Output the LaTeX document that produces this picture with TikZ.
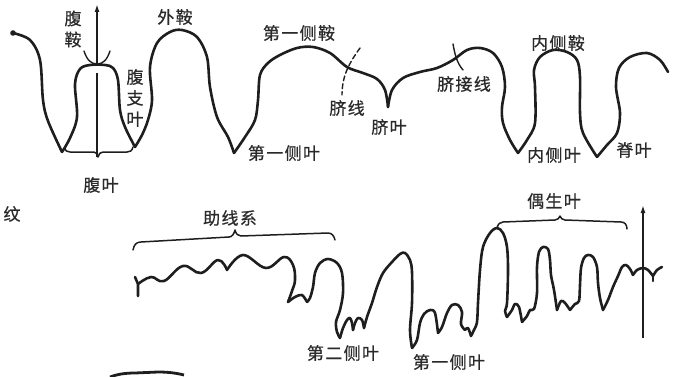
\documentclass[tikz,border=0pt]{standalone}
\usepackage{fontspec}
\newfontfamily\cjk{Noto Sans CJK SC}
\usetikzlibrary{arrows.meta}
\definecolor{ink}{HTML}{1E1E1E}
\definecolor{labelink}{HTML}{2A2A2A}
\begin{document}
\begin{tikzpicture}[x=1pt,y=-1pt,
  suture/.style={line width=2.6pt, line join=round, line cap=round, draw=ink},
  thinline/.style={line width=1.4pt, line cap=round, draw=ink},
  axis/.style={line width=2pt, draw=ink, -{Latex[length=8pt,width=5pt]}},
  brace/.style={line width=1.5pt, line cap=round, line join=round, draw=ink},
  lbl/.style={inner sep=0pt, text=labelink, font=\cjk\fontsize{17}{21}\selectfont\addfontfeature{LetterSpace=8,FakeBold=0.6}},
  vlbl/.style={inner sep=0pt, text=labelink, align=center, font=\cjk\fontsize{17}{21}\selectfont\addfontfeature{FakeBold=0.6}}
]
\useasboundingbox (0,0) rectangle (677,377);

% ---------- upper suture line ----------
\fill[ink] (13,33) circle (2.8pt);
\draw[suture] plot[smooth, tension=0.55] coordinates {(13,33) (30,40) (40,60) (43,100) (48,121) (62,152)};
\draw[suture] plot[smooth, tension=0.55] coordinates {(62,152) (70,138) (77,117) (75,84) (80,69) (90,65) (105,65) (113,68) (118,80) (120,110) (125,127) (135,147)};
\draw[suture] plot[smooth, tension=0.55] coordinates {(135,147) (142,135) (148,120) (152,100) (150,67) (157,43) (170,32) (182,30) (197,37) (207,57) (210,87) (217,117) (228,137) (234,153)};
\draw[suture] plot[smooth, tension=0.55] coordinates {(234,153) (245,137) (255,120) (258,100) (260,75) (268,63) (280,55) (297,48) (313,47) (330,53) (347,67) (363,73) (377,79) (385,90) (388,107)};
\draw[suture] plot[smooth, tension=0.55] coordinates {(388,107) (392,90) (403,78) (420,72) (437,68) (453,60) (467,50) (480,48) (493,53) (502,67) (505,87) (502,107) (503,123) (510,140) (518,153)};
\draw[suture] plot[smooth, tension=0.55] coordinates {(518,153) (527,140) (535,123) (535,87) (534,70) (540,57) (553,50) (567,52) (577,60) (580,77) (580,113) (583,133) (597,157)};
\draw[suture] plot[smooth, tension=0.55] coordinates {(597,157) (607,145) (617,133) (620,113) (616,87) (619,68) (630,57) (647,53) (660,60) (668,72)};

% ventral saddle cup and siphuncle axis
\draw[thinline] (84,51) .. controls (87,60) and (91,64) .. (97,64) .. controls (103,64) and (107,60) .. (110,51);
\draw[axis] (97,63) -- (97,4);
\draw[line width=2pt, draw=ink] (97,73) -- (97,157);

% umbilical seam and umbilical line
\draw[thinline, dash pattern=on 5pt off 3pt] (360,48) .. controls (350,62) and (342,75) .. (342,95);
\draw[thinline] (453,44) .. controls (455,55) and (457,63) .. (463,70);

% brace under the ventral lobe
\draw[brace] (65,147) .. controls (65,151) and (67,152) .. (70,152) -- (94,152) .. controls (96,152) and (97,154) .. (98,157) .. controls (99,154) and (100,152) .. (103,152) -- (127,152) .. controls (130,152) and (132,151) .. (133,147);

% ---------- lower suture line ----------
\draw[suture] (135,277) -- (138,284) -- (138,296);
\draw[suture] plot[smooth, tension=0.7] coordinates {(138,284) (151,277) (164,281) (183,266) (201,273) (218,260) (227,270)};
\draw[suture] plot[smooth, tension=0.65] coordinates {(227,270) (243,255) (266,268) (284,257) (293,265) (295,280) (292,291) (288,302)};
\draw[suture] plot[smooth, tension=0.55] coordinates {(288,302) (295,297) (302,295) (307,302)};
\draw[suture] plot[smooth, tension=0.55] coordinates {(307,302) (310,298) (313,287) (315,273) (320,263) (328,259) (337,263) (342,273) (343,293) (340,310) (336,322) (337,332) (340,338)};
\draw[suture] plot[smooth, tension=0.55] coordinates {(340,338) (343,328) (347,320) (350,318) (352,323) (353,330)};
\draw[suture] plot[smooth, tension=0.55] coordinates {(353,330) (355,323) (358,318) (362,320) (364,328)};
\draw[suture] plot[smooth, tension=0.55] coordinates {(364,328) (367,317) (372,303) (377,287) (383,273) (392,262) (400,254) (405,253) (410,260) (412,272) (412,303) (410,330) (412,348)};
\draw[suture] plot[smooth, tension=0.55] coordinates {(412,348) (417,340) (420,323) (424,314) (430,310) (435,313) (438,333)};
\draw[suture] plot[smooth, tension=0.55] coordinates {(438,333) (442,327) (447,313) (452,305) (458,305) (462,312) (461,324) (465,330)};
\draw[suture] plot[smooth, tension=0.55] coordinates {(465,330) (468,328) (471,336)};
\draw[suture] plot[smooth, tension=0.55] coordinates {(471,336) (474,330) (477,322) (478,303) (480,270) (483,247) (490,233) (497,228) (503,233) (507,247) (508,270) (507,303) (505,311) (507,317)};
\draw[suture] plot[smooth, tension=0.55] coordinates {(507,317) (512,310) (515,304) (519,307) (522,322)};
\draw[suture] plot[smooth, tension=0.55] coordinates {(522,322) (527,316) (530,310) (534,309) (537,293) (537,267) (539,252) (543,247) (548,249) (550,260) (551,275) (554,290) (557,310)};
\draw[suture] plot[smooth, tension=0.55] coordinates {(557,310) (561,301) (565,303) (570,310)};
\draw[suture] plot[smooth, tension=0.55] coordinates {(570,310) (575,304) (579,301) (580,285) (581,268) (584,258) (588,255) (593,257) (597,267) (598,283) (600,298) (603,310)};
\draw[suture] plot[smooth, tension=0.55] coordinates {(603,310) (608,300) (613,287) (618,276) (622,267) (626,265) (630,269) (633,275)};
\draw[suture] plot[smooth, tension=0.55] coordinates {(633,275) (637,270) (643,268) (648,270) (653,276)};
\draw[suture] plot[smooth, tension=0.55] coordinates {(653,276) (657,270) (662,267)};
\draw[suture] (653,276) -- (653,281);

% siphuncle axis of the lower suture
\draw[axis] (643,338) -- (643,205);

% braces over the lower suture
\draw[brace] (133,250) .. controls (134,245) and (136,242) .. (141,242) -- (229,237) .. controls (232,237) and (234,234) .. (235,230) .. controls (236,234) and (238,236) .. (241,236) -- (328,233) .. controls (332,233) and (334,236) .. (335,240);
\draw[brace] (497,228) .. controls (498,224) and (500,222) .. (503,222) -- (555,220) .. controls (558,220) and (559,218) .. (560,216) .. controls (561,218) and (562,220) .. (565,220) -- (621,222) .. controls (625,222) and (627,225) .. (627,229);

% stroke at the lower edge
\draw[line width=2.8pt, draw=ink] (110,377) .. controls (118,374) and (126,373) .. (135,373) -- (158,372) .. controls (168,372) and (176,373) .. (184,375);

% ---------- labels ----------
\node[vlbl] (fuan) at (73,29) {腹\\鞍};
\node[lbl] (waian) at (175,17) {外鞍};
\node[vlbl] (fuzhiye) at (135,98) {腹\\支\\叶};
\node[lbl] (fuye) at (101,185) {腹叶};
\node[lbl] (diyicean) at (299,33) {第一侧鞍};
\node[lbl] (qixian) at (347,108) {脐线};
\node[lbl] (qiye) at (389,127) {脐叶};
\node[lbl] (diyiceye) at (284,153) {第一侧叶};
\node[lbl] (qijiexian) at (464,84) {脐接线};
\node[lbl] (neicean) at (558,43) {内侧鞍};
\node[lbl] (neiceye) at (554,155) {内侧叶};
\node[lbl] (jiye) at (634,150) {脊叶};
\node[lbl] (wen) at (12,214) {纹};
\node[lbl] (zhuxianxi) at (230,218) {助线系};
\node[lbl] (oushengye) at (554,201) {偶生叶};
\node[lbl] (dierceye) at (343,353) {第二侧叶};
\node[lbl] (diyiceye2) at (449,362) {第一侧叶};
\end{tikzpicture}
\end{document}
